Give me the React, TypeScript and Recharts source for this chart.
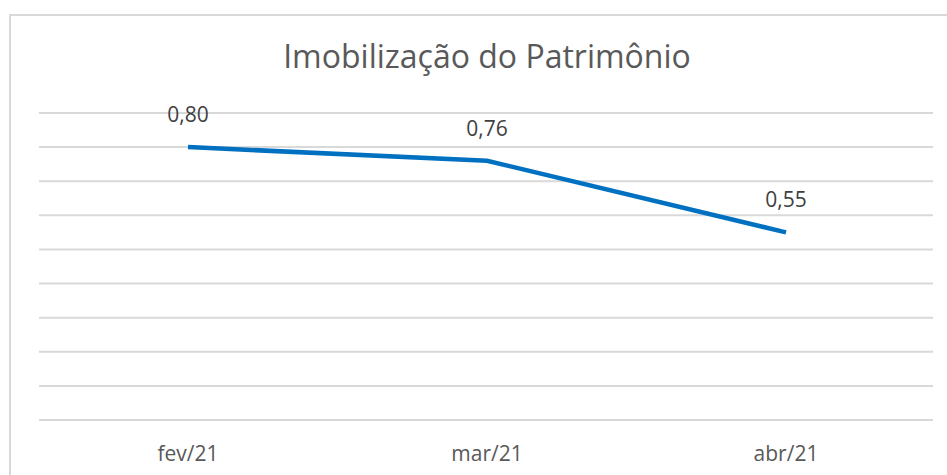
import { LineChart, Line, XAxis, YAxis, CartesianGrid, LabelList } from 'recharts'

const months = ['fev/21', 'mar/21', 'abr/21']
const imobilizacao = [0.8, 0.76, 0.55]
const yTicks = [0, 0.1, 0.2, 0.3, 0.4, 0.5, 0.6, 0.7, 0.8, 0.9]

const data = months.map((month, i) => ({ month, value: imobilizacao[i] }))

function formatValue(value: unknown) {
    return Number(value).toFixed(2).replace('.', ',')
}

function App() {
    return (
        <div style={{ position: 'absolute', left: 0, top: 0, width: 947, height: 475, overflow: 'hidden', background: '#fff' }}>
            <div style={{ position: 'absolute', left: 9, top: 14, width: 960, height: 500, border: '2px solid #d9d9d9', boxSizing: 'border-box' }} />
            <div style={{ position: 'absolute', left: 0, top: 34, width: 974, textAlign: 'center', fontFamily: '"Open Sans", sans-serif', fontSize: 32, lineHeight: '44px', color: '#595959' }}>
                Imobilização do Patrimônio
            </div>
            <LineChart width={947} height={475} data={data} margin={{ top: 113, right: 14, bottom: 25, left: 39 }} style={{ position: 'absolute', left: 0, top: 0 }}>
                <CartesianGrid horizontal vertical={false} stroke="#d9d9d9" strokeWidth={2} />
                <XAxis dataKey="month" axisLine={false} tickLine={false} tickMargin={20} padding={{ left: 149, right: 147 }} tick={{ fontSize: 21, fill: '#595959', fontFamily: '"Open Sans", sans-serif' }} />
                <YAxis hide domain={[0, 0.9]} ticks={yTicks} />
                <Line type="linear" dataKey="value" stroke="#0070c0" strokeWidth={4.5} dot={false} isAnimationActive={false}>
                    <LabelList dataKey="value" position="top" offset={25} formatter={formatValue} style={{ fontSize: 21, fill: '#404040', fontFamily: '"Open Sans", sans-serif' }} />
                </Line>
            </LineChart>
        </div>
    )
}

export default App
